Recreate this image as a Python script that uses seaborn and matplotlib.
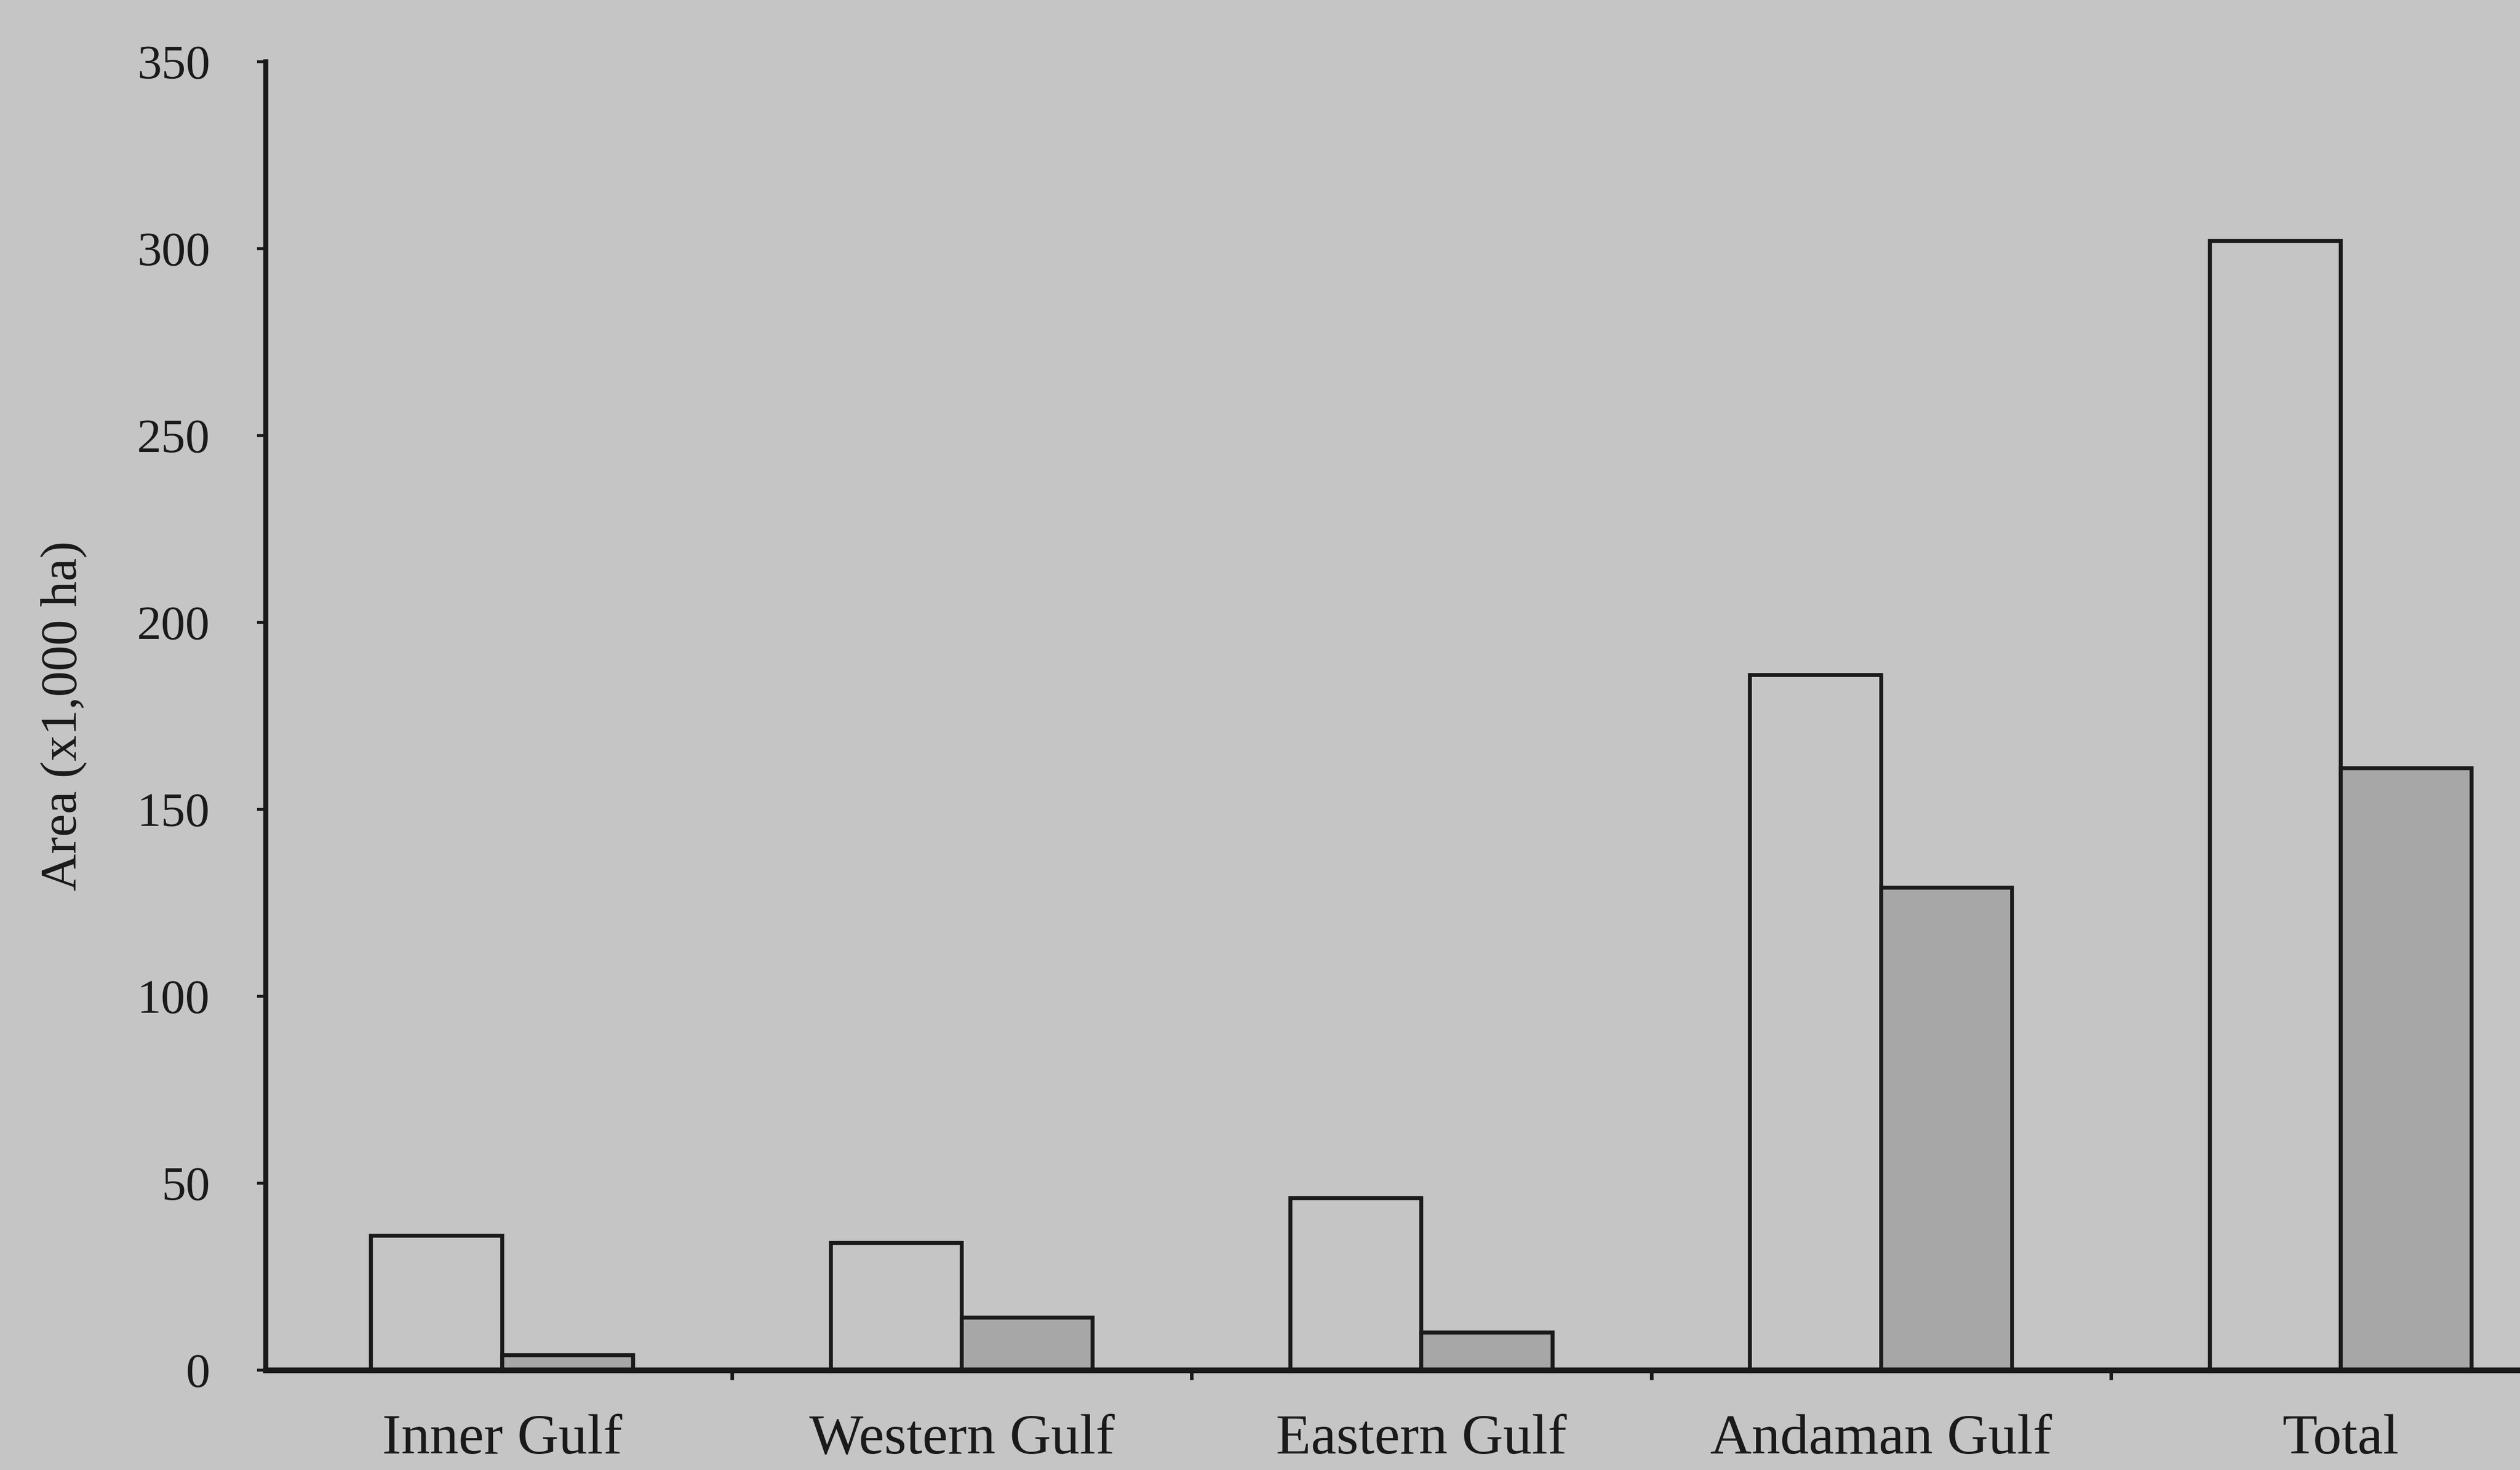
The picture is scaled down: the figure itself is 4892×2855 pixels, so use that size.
import pandas as pd
import matplotlib
matplotlib.use("Agg")
import matplotlib.pyplot as plt
import seaborn as sns

# 数据
regions = ["Inner Gulf", "Western Gulf", "Eastern Gulf", "Andaman Gulf", "Total"]
open_values = [36, 34, 46, 186, 302]
gray_values = [4, 14, 10, 129, 161]
series_names = ["Series 1", "Series 2"]

y_ticks = [0, 50, 100, 150, 200, 250, 300, 350]

bg = "#c5c5c5"


def build_frame():
    rows = []
    for region, a, b in zip(regions, open_values, gray_values):
        rows.append({"region": region, "series": series_names[0], "area": a})
        rows.append({"region": region, "series": series_names[1], "area": b})
    return pd.DataFrame(rows)


def main():
    df = build_frame()

    sns.set_style("ticks")
    plt.rcParams["font.family"] = ["Liberation Serif", "DejaVu Serif"]

    fig = plt.figure(figsize=(48.92, 28.55), dpi=100, facecolor=bg)
    ax = fig.add_axes([0.1055, 0.068, 0.8945, 0.89])
    ax.set_facecolor(bg)

    sns.barplot(
        data=df, x="region", y="area", hue="series",
        order=regions, hue_order=series_names,
        palette=[bg, "#a7a7a7"], width=0.57,
        edgecolor="#1a1a1a", linewidth=5.5,
        legend=False, ax=ax,
    )

    ax.set_xlim(-0.514, 4.39)
    ax.set_ylim(0, 350)
    ax.set_yticks(y_ticks)
    ax.set_yticklabels([str(t) for t in y_ticks], fontsize=68, color="#1a1a1a")

    ax.set_xticks(range(len(regions)))
    ax.set_xticklabels(regions, fontsize=80, color="#1a1a1a")
    ax.set_xticks([0.5, 1.5, 2.5, 3.5], minor=True)

    ax.tick_params(axis="y", which="major", direction="out", length=12,
                   width=4, pad=66, color="#1a1a1a")
    ax.tick_params(axis="x", which="major", length=0, pad=62)
    ax.tick_params(axis="x", which="minor", direction="out", length=14,
                   width=5, color="#1a1a1a")

    ax.set_xlabel("")
    ax.set_ylabel("Area (x1,000 ha)", fontsize=72, color="#1a1a1a", labelpad=70)

    for side in ["top", "right"]:
        ax.spines[side].set_visible(False)
    ax.spines["left"].set_linewidth(7)
    ax.spines["bottom"].set_linewidth(8)
    ax.spines["left"].set_color("#1a1a1a")
    ax.spines["bottom"].set_color("#1a1a1a")

    fig.savefig("out.png", dpi=100, facecolor=bg)


if __name__ == "__main__":
    main()
